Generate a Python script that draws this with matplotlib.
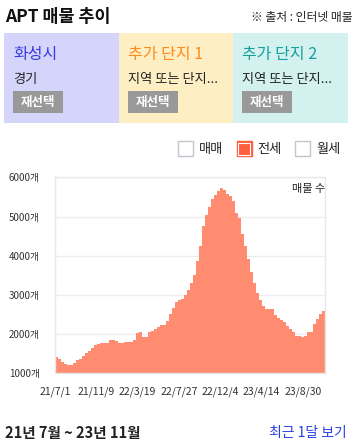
import numpy as np
import matplotlib
matplotlib.use('Agg')
import matplotlib.pyplot as plt
from matplotlib.patches import Rectangle

plt.rcParams['font.family'] = ['Noto Sans CJK KR', 'DejaVu Sans']

# listing counts (전세), one value per step
counts = [1390, 1340, 1285, 1230, 1210, 1200, 1260, 1330, 1350, 1440,
          1500, 1560, 1620, 1700, 1740, 1750, 1760, 1770, 1840, 1850,
          1800, 1770, 1750, 1790, 1780, 1790, 1850, 2010, 2030, 1920,
          1910, 2040, 2080, 2120, 2160, 2210, 2230, 2330, 2500, 2660,
          2800, 2860, 2880, 3000, 3120, 3300, 3500, 3850, 4250, 4750,
          5050, 5250, 5450, 5560, 5650, 5735, 5670, 5580, 5520, 5400,
          5100, 4950, 4550, 4250, 3900, 3580, 3300, 3050, 2850, 2700,
          2640, 2640, 2620, 2480, 2400, 2340, 2300, 2200, 2120, 2030,
          1950, 1940, 1910, 1930, 2030, 2050, 2250, 2380, 2500, 2570]
tick_labels = ['21/7/1', '21/11/9', '22/3/19', '22/7/27', '22/12/4', '23/4/14', '23/8/30']
tick_pos = [0, 130, 260, 390, 520, 650, 780]
n_days = 850
yticks = [1000, 2000, 3000, 4000, 5000, 6000]

panels = [('화성시', '경기', '#d5d5fb', '#3a3ae0'),
          ('추가 단지 1', '지역 또는 단지...', '#feeec4', '#ff8c1a'),
          ('추가 단지 2', '지역 또는 단지...', '#d3f1ee', '#14a0a0')]
legend_items = ['매매', '전세', '월세']

W, H = 355, 444
fig = plt.figure(figsize=(W / 100, H / 100), dpi=100)
fig.patch.set_facecolor('white')

# overlay axes in pixel coordinates for the header / footer
ov = fig.add_axes([0, 0, 1, 1])
ov.set_xlim(0, W)
ov.set_ylim(H, 0)
ov.axis('off')

ov.text(5, 17, 'APT 매물 추이', fontsize=12.5, fontweight='bold', va='center', ha='left', color='#111')
ov.text(353, 18, '※ 출처 : 인터넷 매물', fontsize=8.5, va='center', ha='right', color='#222')

px = 4
pw = 114.7
for i, (name, sub, bg, fg) in enumerate(panels):
    x0 = px + i * pw
    ov.add_patch(Rectangle((x0, 33), pw, 90, facecolor=bg, edgecolor='none'))
    ov.text(x0 + 9, 54, name, fontsize=11.5, color=fg, va='center', ha='left')
    ov.text(x0 + 9, 80, sub, fontsize=9.5, color='#222', va='center', ha='left')
    ov.add_patch(Rectangle((x0 + 9, 91), 50, 22, facecolor='#999999', edgecolor='none'))
    ov.text(x0 + 34, 102, '재선택', fontsize=9, color='white', fontweight='bold', va='center', ha='center')

# legend checkboxes
for i, lab in enumerate(legend_items):
    bx = 178 + i * 58.5
    if i == 1:
        ov.add_patch(Rectangle((bx, 141), 15, 15, facecolor='#ff5f3f', edgecolor='#ff5f3f', lw=1))
        ov.add_patch(Rectangle((bx + 1.5, 142.5), 12, 12, facecolor='none', edgecolor='white', lw=0.8))
    else:
        ov.add_patch(Rectangle((bx, 141), 15, 15, facecolor='white', edgecolor='#c4c4cc', lw=1))
    ov.text(bx + 21, 149, lab, fontsize=9.5, color='#222', va='center', ha='left')

ov.text(5, 433, '21년 7월 ~ 23년 11월', fontsize=10.5, fontweight='bold', color='#222', va='center', ha='left')
ov.text(347, 433, '최근 1달 보기', fontsize=10, color='#2a3fe0', va='center', ha='right')

# chart
ax = fig.add_axes([55 / W, 1 - 372.7 / H, 270 / W, (372.7 - 177.5) / H])
edges = np.linspace(0, n_days, len(counts) + 1)
vals = np.append(counts, counts[-1])
ax.fill_between(edges, 0, vals, step='post', color='#ff8b70', lw=0, zorder=2)
ax.set_xlim(0, n_days)
ax.set_ylim(1000, 6000)
ax.set_yticks(yticks)
ax.set_yticklabels([f'{v}개' for v in yticks], fontsize=7, color='#333')
ax.set_xticks(tick_pos)
ax.set_xticklabels(tick_labels, fontsize=7.5, color='#333')
ax.tick_params(length=0)
ax.tick_params(axis='y', pad=11)
ax.tick_params(axis='x', pad=10)
ax.grid(axis='y', color='#ececec', lw=1, zorder=1)
for s in ax.spines.values():
    s.set_color('#e8e8e8')
    s.set_linewidth(1)
ax.text(1.0, 0.94, '매물 수', transform=ax.transAxes, fontsize=8, color='#222', ha='right', va='center', zorder=3)

fig.savefig('out.png', dpi=100)
